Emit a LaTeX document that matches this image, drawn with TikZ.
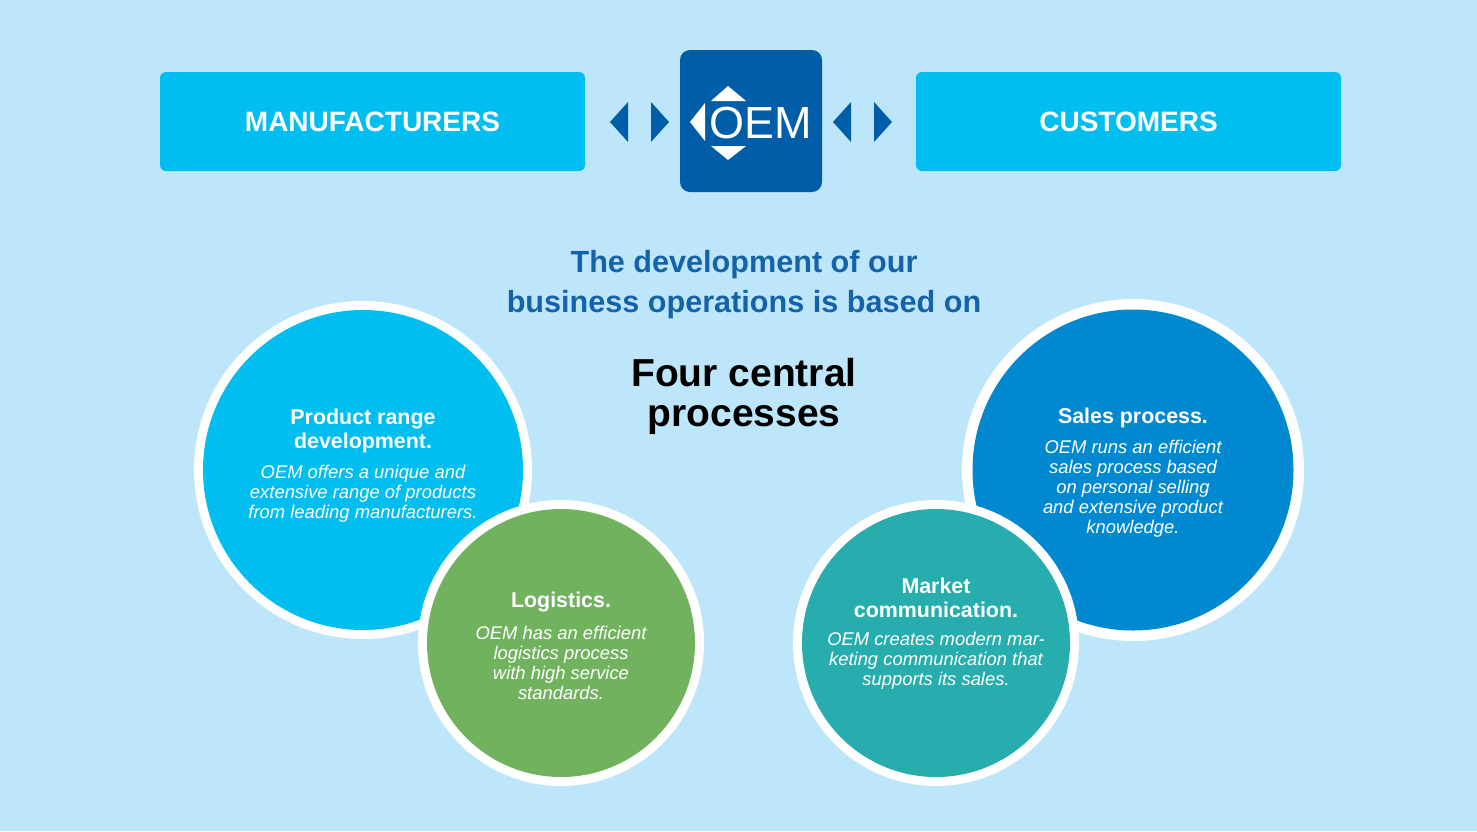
\documentclass[tikz,border=0pt]{standalone}
\usepackage{fontspec}
\setmainfont{Liberation Sans}
\definecolor{bgblue}{HTML}{BDE6FA}
\definecolor{cyanbox}{HTML}{00BEF0}
\definecolor{oemblue}{HTML}{005DA8}
\definecolor{headblue}{HTML}{1462A8}
\definecolor{salesblue}{HTML}{0089D0}
\definecolor{leafgreen}{HTML}{71B25E}
\definecolor{tealc}{HTML}{27ADAE}
\tikzset{
  partybox/.style={fill=cyanbox, rounded corners=3pt, minimum width=212.5pt, minimum height=49.5pt,
    text=white, font=\bfseries\fontsize{14}{16}\selectfont},
  procring/.style={circle, fill=white, inner sep=0pt},
  proctext/.style={text=white, align=center, font=\fontsize{9.2}{10}\selectfont\itshape},
  proctitle/.style={text=white, align=center, font=\bfseries\fontsize{10.7}{12}\selectfont},
  tri/.style={fill=oemblue},
}
\begin{document}
\begin{tikzpicture}[x=0.5pt,y=-0.5pt]
  \fill[bgblue] (0,0) rectangle (1477,831);
  \useasboundingbox (0,0) rectangle (1477,831);

  % top row
  \node[partybox] (manu) at (372.5,121.5) {MANUFACTURERS};
  \node[partybox] (cust) at (1128.5,121.5) {CUSTOMERS};
  \fill[oemblue, rounded corners=5pt] (680,50) rectangle (822,192);
  \node[text=white, font=\fontsize{22.5}{24}\selectfont, inner sep=0pt] (oem) at (761,123) {OEM};
  \fill[white] (728,86) -- (746,101) -- (711,101) -- cycle;
  \fill[white] (728,160) -- (746,146) -- (711,146) -- cycle;
  \fill[white] (690,122) -- (705,103) -- (705,141) -- cycle;
  \fill[tri] (610,122) -- (628,102) -- (628,142) -- cycle;
  \fill[tri] (669,122) -- (651,102) -- (651,142) -- cycle;
  \fill[tri] (833,122) -- (851,102) -- (851,142) -- cycle;
  \fill[tri] (892,122) -- (874,102) -- (874,142) -- cycle;

  % headings
  \node[text=headblue, align=center, font=\bfseries\fontsize{15.3}{20}\selectfont] (based) at (744,285)
    {The development of our\\business operations is based on};
  \node[align=center, font=\bfseries\fontsize{19.5}{20}\selectfont] (four) at (744,396)
    {Four central\\processes};

  % circles
  \node[procring, minimum size=169pt] (prodr) at (363,470) {};
  \node[circle, fill=cyanbox, minimum size=160pt] (prod) at (363,470) {};
  \node[procring, minimum size=171pt] (salesr) at (1133,470) {};
  \node[circle, fill=salesblue, minimum size=160.5pt] (sales) at (1133,470) {};
  \node[procring, minimum size=143pt] (logr) at (561,643) {};
  \node[circle, fill=leafgreen, minimum size=134pt] (log) at (561,643) {};
  \node[procring, minimum size=143pt] (mktr) at (936,643) {};
  \node[circle, fill=tealc, minimum size=134pt] (mkt) at (936,643) {};

  % circle texts
  \node[proctitle] at (363,431) {Product range\\development.};
  \node[proctext] at (363,494) {OEM offers a unique and\\extensive range of products\\from leading manufacturers.};
  \node[proctitle] at (561,602) {Logistics.};
  \node[proctext] at (561,663) {OEM has an efficient\\logistics process\\with high service\\standards.};
  \node[proctitle] at (936,598) {Market\\communication.};
  \node[proctext] at (936,661) {OEM creates modern mar-\\keting communication that\\supports its sales.};
  \node[proctitle] at (1133,418) {Sales process.};
  \node[proctext] at (1133,489) {OEM runs an efficient\\sales process based\\on personal selling\\and extensive product\\knowledge.};
\end{tikzpicture}
\end{document}
